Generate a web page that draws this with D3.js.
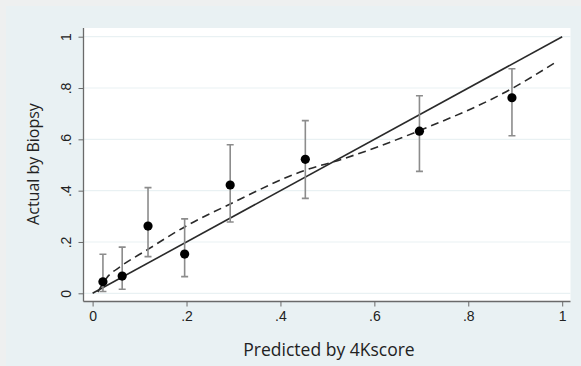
<!DOCTYPE html>
<html>
<head>
<meta charset="utf-8">
<script src="https://cdn.jsdelivr.net/npm/d3@7"></script>
<style>
  html, body { margin: 0; padding: 0; background: #eef0f0; }
  svg { display: block; }
</style>
</head>
<body>
<svg id="chart" width="581" height="366"></svg>
<script>
// calibration groups: mean predicted vs observed, with 95% CI
const predicted = [0.022, 0.063, 0.118, 0.196, 0.293, 0.453, 0.696, 0.893];
const observed  = [0.045, 0.067, 0.262, 0.153, 0.422, 0.522, 0.632, 0.762];
const ciLow     = [0.007, 0.016, 0.143, 0.065, 0.278, 0.370, 0.475, 0.614];
const ciHigh    = [0.152, 0.180, 0.412, 0.290, 0.579, 0.673, 0.770, 0.875];

// lowess smooth (dashed)
const smoothX = [0.011, 0.030, 0.060, 0.115, 0.200, 0.293, 0.450, 0.530, 0.696, 0.893, 0.990];
const smoothY = [0.005, 0.060, 0.105, 0.168, 0.263, 0.348, 0.478, 0.522, 0.634, 0.798, 0.905];

const xTicks = [0, 0.2, 0.4, 0.6, 0.8, 1];
const yTicks = [0, 0.2, 0.4, 0.6, 0.8, 1];
const fmt = (d) => d === 0 ? '0' : d === 1 ? '1' : String(d).replace(/^0/, '');

const svg = d3.select('#chart');
const W = 581, H = 366;

// outer background
svg.append('rect').attr('x', 6).attr('y', 6).attr('width', W - 6).attr('height', H - 6).attr('fill', '#e9f1f3');

const x = d3.scaleLinear().domain([0, 1]).range([92.6, 562.2]);
const y = d3.scaleLinear().domain([0, 1]).range([293.3, 36.7]);

const plotL = 83.5, plotR = 570.5, plotT = 28, plotB = 301.5;

// plot region
svg.append('rect')
  .attr('x', plotL).attr('y', plotT)
  .attr('width', plotR - plotL).attr('height', plotB - plotT)
  .attr('fill', '#ffffff');

// grid lines
svg.append('g').selectAll('line')
  .data(yTicks)
  .enter().append('line')
  .attr('x1', plotL).attr('x2', plotR)
  .attr('y1', (d) => y(d)).attr('y2', (d) => y(d))
  .attr('stroke', '#e9f1f3')
  .attr('stroke-width', 1.2);

// axes
const xAxis = svg.append('g')
  .attr('transform', `translate(0,${plotB})`)
  .call(d3.axisBottom(x).tickValues(xTicks).tickFormat(fmt).tickSize(5).tickSizeOuter(0));
xAxis.select('.domain').attr('d', `M${plotL},0H${plotR}`);

const yAxis = svg.append('g')
  .attr('transform', `translate(${plotL},0)`)
  .call(d3.axisLeft(y).tickValues(yTicks).tickFormat(fmt).tickSize(5).tickSizeOuter(0));
yAxis.select('.domain').attr('d', `M0,${plotT}V${plotB}`);

svg.selectAll('.domain').attr('stroke', '#6a6a6a').attr('stroke-width', 1.3);
svg.selectAll('.tick line').attr('stroke', '#6a6a6a');
svg.selectAll('.tick text')
  .attr('fill', '#222')
  .style('font-family', 'Liberation Sans, Arial, sans-serif')
  .style('font-size', '14px');
xAxis.selectAll('.tick text').attr('dy', '0.71em').attr('y', 10);
yAxis.selectAll('.tick text')
  .attr('x', null).attr('dy', null)
  .attr('text-anchor', 'middle')
  .attr('transform', 'translate(-17,0) rotate(-90)')
  .attr('dy', '0.35em');

// reference line y = x
const line = d3.line().x((d) => x(d[0])).y((d) => y(d[1]));
svg.append('path')
  .datum([[0, 0], [1, 1]])
  .attr('d', line)
  .attr('fill', 'none')
  .attr('stroke', '#2a2a2a')
  .attr('stroke-width', 1.6);

// smooth
svg.append('path')
  .datum(smoothX.map((v, i) => [v, smoothY[i]]))
  .attr('d', line.curve(d3.curveMonotoneX))
  .attr('fill', 'none')
  .attr('stroke', '#2a2a2a')
  .attr('stroke-width', 1.6)
  .attr('stroke-dasharray', '8 5');

// error bars
const groups = predicted.map((p, i) => ({ p, o: observed[i], lo: ciLow[i], hi: ciHigh[i] }));
const bars = svg.append('g').attr('stroke', '#8c8c8c').attr('stroke-width', 1.6);
bars.selectAll('.ci')
  .data(groups)
  .enter().append('path')
  .attr('d', (d) => {
    const cx = x(d.p), cap = 3.5;
    return `M${cx},${y(d.lo)}V${y(d.hi)}` +
      `M${cx - cap},${y(d.lo)}H${cx + cap}` +
      `M${cx - cap},${y(d.hi)}H${cx + cap}`;
  })
  .attr('fill', 'none');

// points
svg.append('g').selectAll('circle')
  .data(groups)
  .enter().append('circle')
  .attr('cx', (d) => x(d.p))
  .attr('cy', (d) => y(d.o))
  .attr('r', 4.6)
  .attr('fill', '#000');

// axis titles
svg.append('text')
  .attr('x', 329).attr('y', 356)
  .attr('text-anchor', 'middle')
  .attr('fill', '#222')
  .style('font-family', 'Open Sans, sans-serif')
  .style('font-size', '17.5px')
  .text('Predicted by 4Kscore');

svg.append('text')
  .attr('transform', 'translate(39,164) rotate(-90)')
  .attr('text-anchor', 'middle')
  .attr('fill', '#222')
  .style('font-family', 'Open Sans, sans-serif')
  .style('font-size', '16px')
  .text('Actual by Biopsy');
</script>
</body>
</html>
